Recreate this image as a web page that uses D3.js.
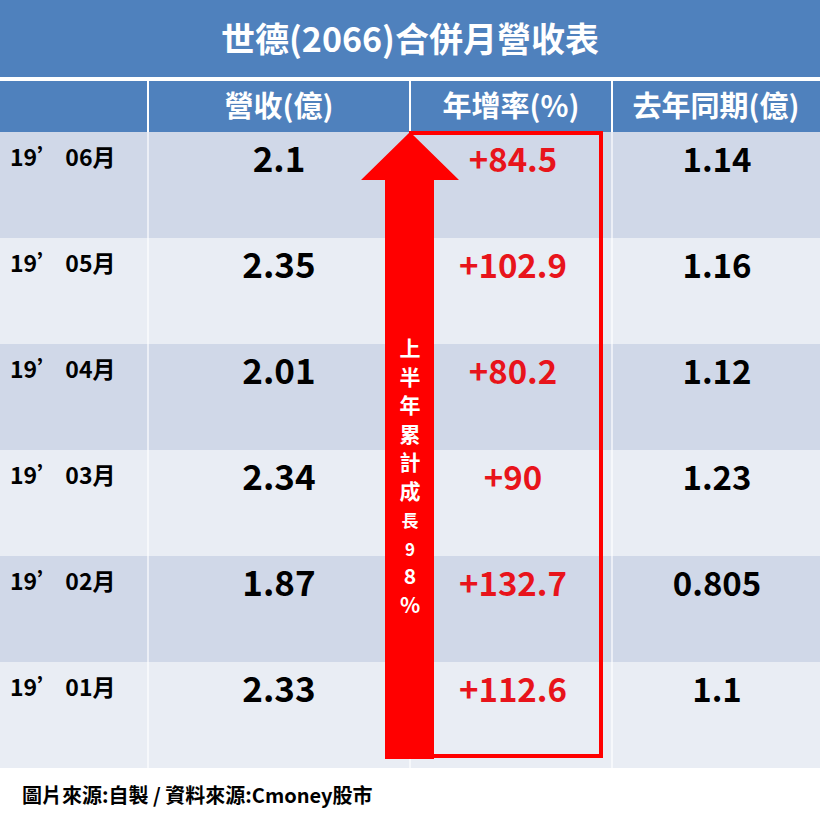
<!DOCTYPE html><html><head><meta charset="utf-8"><script src="https://cdn.jsdelivr.net/npm/d3@7"></script>
<style>body{margin:0;background:#fff}</style></head><body><script>
const title="世德(2066)合併月營收表";
const headers=["","營收(億)","年增率(%)","去年同期(億)"];
const months=["19’ 06月","19’ 05月","19’ 04月","19’ 03月","19’ 02月","19’ 01月"];
const revenue=["2.1","2.35","2.01","2.34","1.87","2.33"];
const yoy=["+84.5","+102.9","+80.2","+90","+132.7","+112.6"];
const lastYear=["1.14","1.16","1.12","1.23","0.805","1.1"];
const arrowText="上半年累計成長98%".split("");
const footer="圖片來源:自製 / 資料來源:Cmoney股市";
const F="'Noto Sans CJK TC','Noto Sans',sans-serif";
const svg=d3.select("body").append("svg").attr("width",820).attr("height",820);
const colEdges=[0,148,410,612,820];
const y=d3.scaleBand().domain(d3.range(months.length)).range([132,768]).padding(0);
svg.append("rect").attr("x",0).attr("y",0).attr("width",820).attr("height",77).attr("fill","#4f81bd");
svg.append("text").attr("x",410).attr("y",52).attr("text-anchor","middle").attr("fill","#fff").attr("font-family",F).attr("font-weight",700).attr("font-size",34).text(title);
svg.append("rect").attr("x",0).attr("y",81).attr("width",820).attr("height",51).attr("fill","#4f81bd");
headers.forEach((h,i)=>{if(i>0)svg.append("text").attr("x",(colEdges[i]+colEdges[i+1])/2).attr("y",117).attr("text-anchor","middle").attr("fill","#fff").attr("font-family",F).attr("font-weight",700).attr("font-size",29).text(h);});
months.forEach((m,i)=>{
 svg.append("rect").attr("x",0).attr("y",y(i)).attr("width",820).attr("height",y.bandwidth()).attr("fill",i%2?"#e9edf4":"#d0d8e8");
});
[148,410,612].forEach(x=>{svg.append("line").attr("x1",x).attr("x2",x).attr("y1",81).attr("y2",132).attr("stroke","#fff").attr("stroke-width",2);
 svg.append("line").attr("x1",x).attr("x2",x).attr("y1",132).attr("y2",768).attr("stroke","#fff").attr("stroke-opacity",0.6).attr("stroke-width",2);});
svg.append("line").attr("x1",0).attr("x2",820).attr("y1",79).attr("y2",79).attr("stroke","#fff").attr("stroke-width",4);
months.forEach((m,i)=>{
 const yy=y(i);
 svg.append("text").attr("x",10).attr("y",yy+34).attr("font-family",F).attr("font-weight",700).attr("font-size",23).attr("fill","#000").text(m);
 svg.append("text").attr("x",279).attr("y",yy+40).attr("text-anchor","middle").attr("font-family",F).attr("font-weight",700).attr("font-size",35).attr("fill","#000").text(revenue[i]);
 svg.append("text").attr("x",513).attr("y",yy+40).attr("text-anchor","middle").attr("font-family",F).attr("font-weight",700).attr("font-size",33).attr("fill","#e8141b").text(yoy[i]);
 svg.append("text").attr("x",717).attr("y",yy+40).attr("text-anchor","middle").attr("font-family",F).attr("font-weight",700).attr("font-size",33).attr("fill","#000").text(lastYear[i]);
});
svg.append("rect").attr("x",411).attr("y",133).attr("width",190).attr("height",623).attr("fill","none").attr("stroke","#f00").attr("stroke-width",4);
svg.append("path").attr("d","M410,132 L459,180 L434,180 L434,759 L385,759 L385,180 L361,180 Z").attr("fill","#f00");
arrowText.forEach((c,i)=>{svg.append("text").attr("x",410).attr("y",356+i*28.5).attr("text-anchor","middle").attr("font-family",F).attr("font-weight",700).attr("font-size",i>=6&&i<8?17:21).attr("fill","#fff").text(c);});
svg.append("text").attr("x",22).attr("y",803).attr("font-family",F).attr("font-weight",700).attr("font-size",20).attr("fill","#000").text(footer);
</script></body></html>
